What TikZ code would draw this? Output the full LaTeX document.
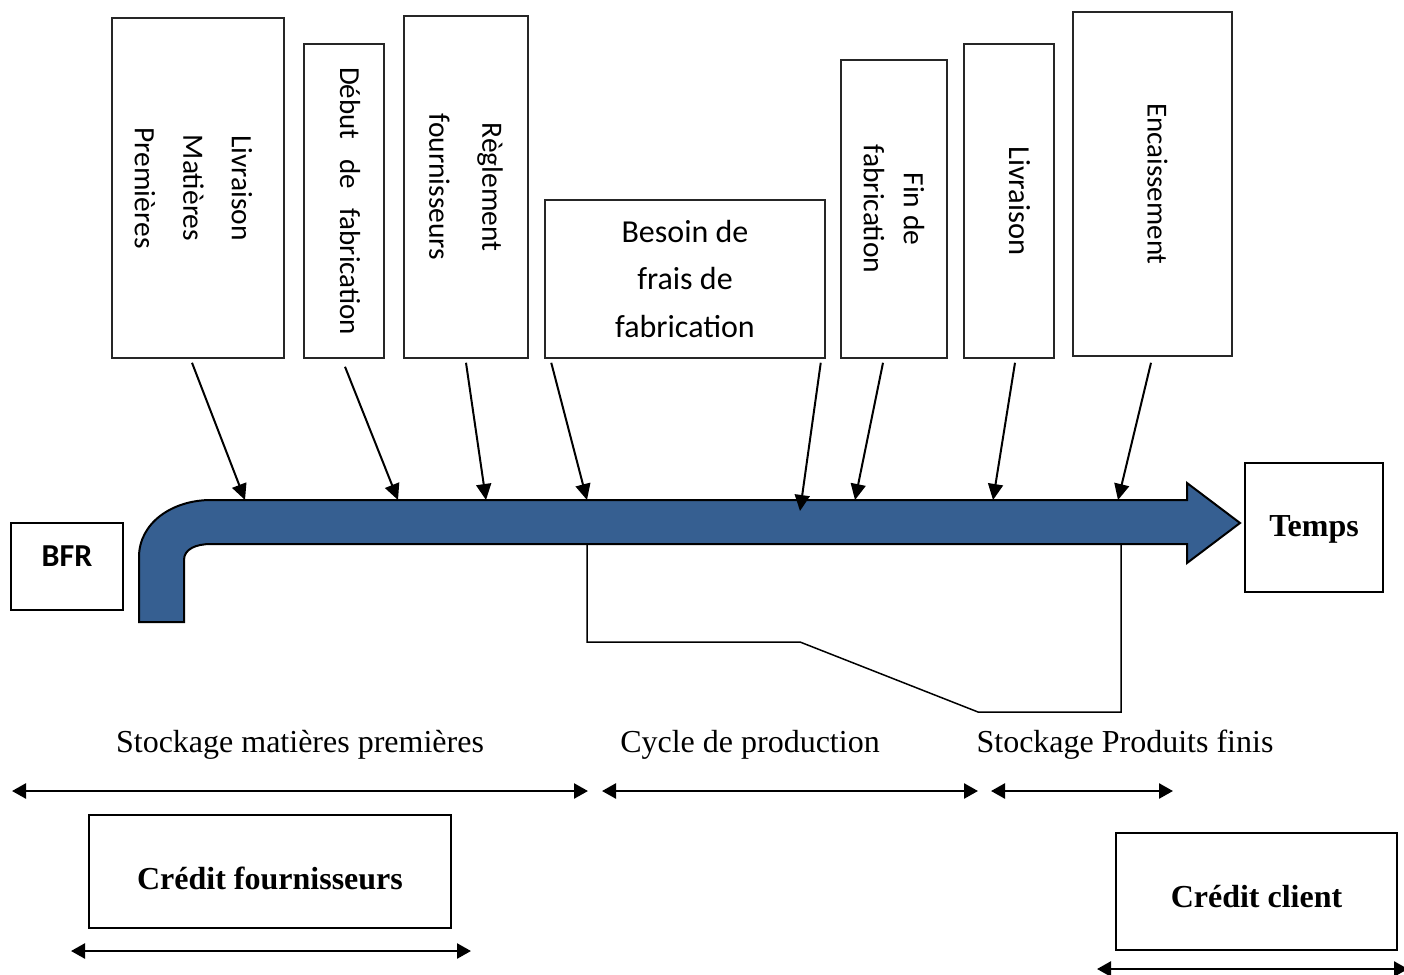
\documentclass[tikz,border=0pt]{standalone}
\usepackage{fontspec}
\setmainfont{Liberation Serif}
\newfontfamily\calfont{Carlito}
\usetikzlibrary{arrows.meta,calc}
\definecolor{bandblue}{RGB}{54,95,145}
\newcommand\myshift[2]{\raisebox{#1}[\height][\depth]{#2}}
\begin{document}
\begin{tikzpicture}[x=1pt,y=-1pt,
  evbox/.style={draw=black!85, line width=1.5pt, inner sep=0pt, align=center,
    font=\calfont\fontsize{29}{40}\selectfont},
  vbox/.style={evbox, rotate=-90},
  ptr/.style={line width=2pt, -{Triangle[length=16pt,width=15pt]}},
  spanarrow/.style={line width=2.5pt, {Triangle[length=14pt,width=15pt]}-{Triangle[length=14pt,width=15pt]}},
  lbl/.style={font=\fontsize{32}{38}\selectfont, inner sep=0pt, anchor=base},
  boldbox/.style={draw, line width=2pt, inner sep=0pt, font=\bfseries\fontsize{32}{38}\selectfont},
  bracket/.style={line width=1.5pt}
]
\useasboundingbox (0,0) rectangle (1404,974);

% event boxes
\node[vbox, minimum width=340, minimum height=172, font=\calfont\fontsize{29.5}{48.5}\selectfont] (lmp) at (198,188) {\myshift{-5pt}{\begin{tabular}{@{}c@{}}Livraison\\Matières\\Premières\end{tabular}}};
\node[vbox, minimum width=314, minimum height=80] (deb) at (344,201) {\myshift{6pt}{\makebox[268pt][s]{Début de fabrication}}};
\node[vbox, minimum width=342, minimum height=124, font=\calfont\fontsize{29.5}{53}\selectfont] (reg) at (466,187) {Règlement\\fournisseurs};
\node[evbox, minimum width=280, minimum height=158, font=\calfont\fontsize{32}{47.5}\selectfont] (bes) at (685,279) {Besoin de\\frais de\\fabrication};
\node[vbox, minimum width=298, minimum height=106, font=\calfont\fontsize{29.5}{40}\selectfont] (fin) at (894,209) {Fin de\\fabrication};
\node[vbox, minimum width=314, minimum height=90, font=\calfont\fontsize{30.5}{40}\selectfont] (liv) at (1009,201) {\myshift{11pt}{Livraison}};
\node[vbox, minimum width=344, minimum height=159] (enc) at (1152.5,184) {\myshift{5pt}{Encaissement}};

% big arrow (time line)
\draw[line width=2pt, fill=bandblue, line join=miter]
  (139,622) -- (139,557) .. controls (139,523) and (172,500) .. (211,500)
  -- (1187,500) -- (1187,483) -- (1240,523) -- (1187,563) -- (1187,544)
  -- (211,544) .. controls (196,544) and (184,549) .. (184,560)
  -- (184,622) -- cycle;

% arrow targets on the time line
\coordinate (e1) at (245,500);
\coordinate (e2) at (398,500);
\coordinate (e3) at (486,500);
\coordinate (e4) at (587,500);
\coordinate (e5) at (800,511);
\coordinate (e6) at (855,500);
\coordinate (e7) at (993,500);
\coordinate (e8) at (1118,500);

\draw[ptr] ($(lmp.east)+(-6,4)$) -- (e1);
\draw[ptr] ($(deb.east)+(1,8)$) -- (e2);
\draw[ptr] ($(reg.east)+(0,4)$) -- (e3);
\draw[ptr] ($(bes.south west)+(7,4)$) -- (e4);
\draw[ptr] ($(bes.south east)+(-5,4)$) -- (e5);
\draw[ptr] ($(fin.east)+(-11,4)$) -- (e6);
\draw[ptr] ($(liv.east)+(6,4)$) -- (e7);
\draw[ptr] ($(enc.east)+(-1.5,6)$) -- (e8);

% side boxes
\node[draw, line width=2pt, minimum width=112, minimum height=87, inner sep=0pt,
  font=\calfont\bfseries\fontsize{32}{38}\selectfont] (bfr) at (67,566.5) {\myshift{10.5pt}{BFR}};
\node[boldbox, minimum width=138, minimum height=129] (temps) at (1314,527.5) {\myshift{-2pt}{Temps}};

% bracket under the time line
\draw[bracket] (587,544) -- (587,642) -- (800,642) -- (978,712) -- (1121,712) -- (1121,544);

% phase labels
\node[lbl] (smp) at (300,752) {Stockage matières premières};
\node[lbl] (cyc) at (750,752) {Cycle de production};
\node[lbl] (spf) at (1125,752) {Stockage Produits finis};

\coordinate (s1a) at (12,791);  \coordinate (s1b) at (588,791);
\coordinate (s2a) at (602,791); \coordinate (s2b) at (978,791);
\coordinate (s3a) at (991,791); \coordinate (s3b) at (1173,791);
\draw[spanarrow] (s1a) -- (s1b);
\draw[spanarrow] (s2a) -- (s2b);
\draw[spanarrow] (s3a) -- (s3b);

% credit boxes
\node[boldbox, minimum width=362, minimum height=113] (cf) at (270,871.5) {\myshift{-7pt}{Crédit fournisseurs}};
\coordinate (c1a) at (71,951); \coordinate (c1b) at (471,951);
\draw[spanarrow] (c1a) -- (c1b);

\node[boldbox, minimum width=281, minimum height=117] (cc) at (1256.5,891.5) {\myshift{-5pt}{Crédit client}};
\coordinate (c2a) at (1097,969); \coordinate (c2b) at (1408,969);
\draw[spanarrow] (c2a) -- (c2b);
\end{tikzpicture}
\end{document}
